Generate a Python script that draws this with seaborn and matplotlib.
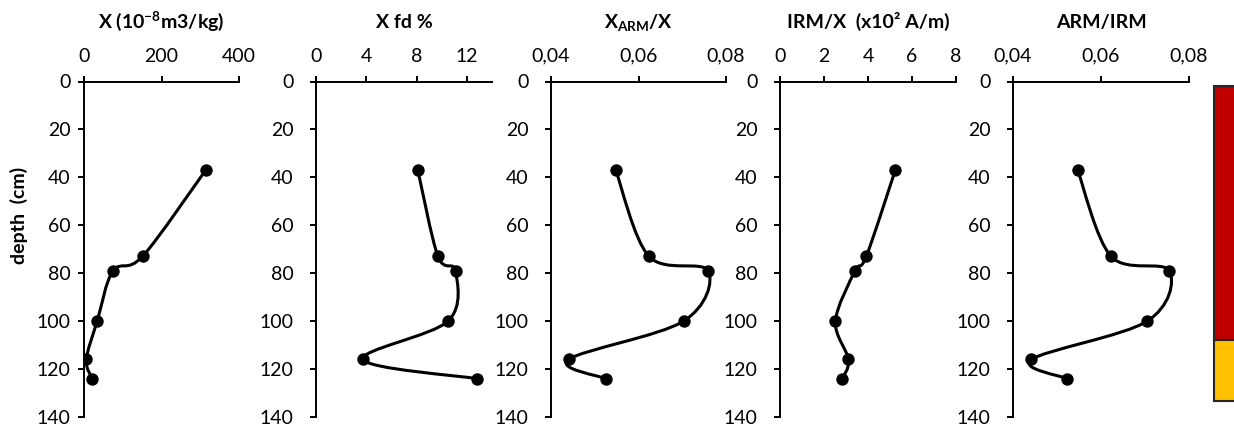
import numpy as np
import matplotlib
matplotlib.use("Agg")
import matplotlib.pyplot as plt
from matplotlib.path import Path
from matplotlib.patches import PathPatch
import seaborn as sns

# ---------------- data ----------------
depth = [37, 73, 79, 100, 116, 124]
chi = [314, 151, 75, 34, 6, 21]
chi_fd = [8.1, 9.7, 11.1, 10.5, 3.75, 12.8]
xarm_x = [0.0548, 0.0624, 0.0759, 0.0703, 0.0440, 0.0525]
irm_x = [5.24, 3.92, 3.41, 2.52, 3.11, 2.84]
arm_irm = [0.0547, 0.0623, 0.0755, 0.0705, 0.0442, 0.0523]

titles = [r"X (10$^{-8}$m3/kg)", "X fd %", r"X$_{ARM}$/X",
          "IRM/X  (x10² A/m)", "ARM/IRM"]
series = [chi, chi_fd, xarm_x, irm_x, arm_irm]
xlims = [(0, 400), (0, 14), (0.04, 0.08), (0, 8), (0.04, 0.08)]
xticks = [[0, 200, 400], [0, 4, 8, 12], [0.04, 0.06, 0.08],
          [0, 2, 4, 6, 8], [0.04, 0.06, 0.08]]
xticklabels = [["0", "200", "400"], ["0", "4", "8", "12"],
               ["0,04", "0,06", "0,08"], ["0", "2", "4", "6", "8"],
               ["0,04", "0,06", "0,08"]]
depth_ticks = [0, 20, 40, 60, 80, 100, 120, 140]
depth_labels = ["0", "20", "40", "60", "80", "100", "120", "140"]

layer_top = [2, 108]
layer_bottom = [108, 133.5]
layer_colors = ["#C00000", "#FFC000"]

# ---------------- style ----------------
sns.set_style("ticks")
plt.rcParams["font.family"] = ["Lato", "DejaVu Sans"]
plt.rcParams["mathtext.fontset"] = "custom"
plt.rcParams["mathtext.rm"] = "Lato"
plt.rcParams["mathtext.bf"] = "Lato:bold"
plt.rcParams["mathtext.default"] = "bf"

W, H = 1234, 425
fig = plt.figure(figsize=(W / 100, H / 100), dpi=100)

top_px, bot_px = 81.5, 417.0
ax_bottom = 1 - bot_px / H
ax_height = (bot_px - top_px) / H
panels_px = [(84, 239), (316, 492), (551, 726), (780, 956), (1013, 1189)]
ypads = [5, 11.5, 11.5, 11.5, 11.5]
FS = 14


def smooth_path(xv, yv):
    P = np.column_stack([xv, yv]).astype(float)
    n = len(P)
    verts = [P[0]]
    codes = [Path.MOVETO]
    for i in range(n - 1):
        p_prev = P[i - 1] if i > 0 else P[i]
        p_next = P[i + 2] if i + 2 < n else P[i + 1]
        c1 = P[i] + (P[i + 1] - p_prev) / 6.0
        c2 = P[i + 1] - (p_next - P[i]) / 6.0
        verts += [c1, c2, P[i + 1]]
        codes += [Path.CURVE4] * 3
    return Path(verts, codes)


axes = []
for k, (l, r) in enumerate(panels_px):
    ax = fig.add_axes([l / W, ax_bottom, (r - l) / W, ax_height])
    axes.append(ax)
    vals = series[k]
    patch = PathPatch(smooth_path(vals, depth), facecolor="none",
                      edgecolor="black", linewidth=2.2, zorder=2)
    ax.add_patch(patch)
    sns.scatterplot(x=vals, y=depth, ax=ax, color="black", s=80,
                    edgecolor="black", linewidth=0, zorder=3, legend=False)
    ax.set_xlim(*xlims[k])
    ax.set_ylim(140, 0)
    ax.xaxis.tick_top()
    ax.set_xticks(xticks[k])
    ax.set_xticklabels(xticklabels[k])
    ax.set_yticks(depth_ticks)
    ax.set_yticklabels(depth_labels)
    for s in ["right", "bottom"]:
        ax.spines[s].set_visible(False)
    for s in ["left", "top"]:
        ax.spines[s].set_linewidth(1.4)
        ax.spines[s].set_color("black")
    ax.tick_params(axis="x", direction="out", length=4.5, width=1.4,
                   pad=7.5, labelsize=FS, colors="black")
    ax.tick_params(axis="y", direction="out", length=4.5, width=1.4,
                   pad=ypads[k], labelsize=FS, colors="black")
    ax.set_xlabel("")
    ax.set_ylabel("")
    ax.text(0.5, 1 + (top_px - 28) / (bot_px - top_px), titles[k],
            transform=ax.transAxes, ha="center", va="baseline",
            fontsize=FS, fontweight="bold", color="black")

fig.text(19 / W, 1 - 215 / H, "depth  (cm)", rotation=90, ha="center",
         va="center", fontsize=FS, fontweight="bold", color="black")

# stratigraphic column
axb = fig.add_axes([1211 / W, ax_bottom, 60 / W, ax_height])
axb.set_ylim(140, 0)
axb.set_xlim(-0.05, 1)
heights = [b - t for t, b in zip(layer_top, layer_bottom)]
axb.bar([0, 0], heights, bottom=layer_top, width=1.2, align="edge",
        color=layer_colors, edgecolor="#262626", linewidth=1.5)
axb.axis("off")

fig.savefig("out.png", dpi=100)
